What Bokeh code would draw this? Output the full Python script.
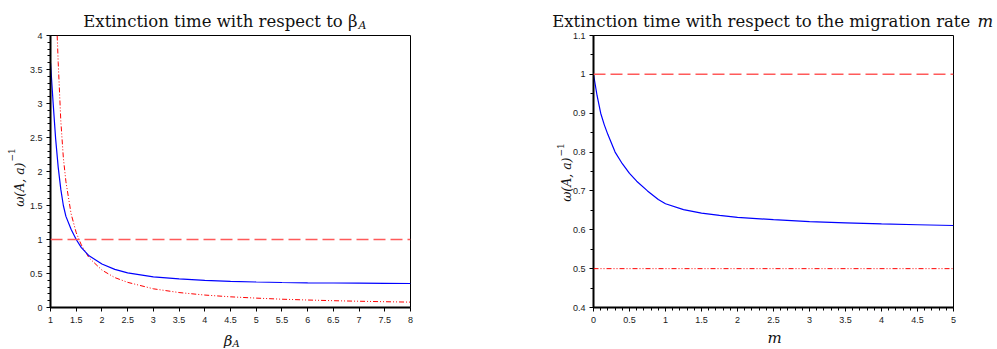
import math
from bokeh.plotting import figure
from bokeh.layouts import row
from bokeh.models import FixedTicker, CustomJSTickFormatter, Span, Label
from bokeh.embed import file_html
from bokeh.resources import INLINE

# ---------------- data ----------------
beta_blue = [1.0, 1.05, 1.1, 1.15, 1.2, 1.25, 1.3, 1.4, 1.5, 1.6, 1.75,
             2.0, 2.25, 2.5, 3.0, 3.5, 4.0, 4.5, 5.0, 5.5, 6.0, 6.5, 7.0, 7.5, 8.0]
omega_blue_beta = [3.6, 3.02, 2.48, 2.06, 1.74, 1.5, 1.34, 1.15, 1.0, 0.88, 0.76,
                   0.64, 0.56, 0.51, 0.45, 0.42, 0.40, 0.385, 0.375, 0.368, 0.363, 0.36, 0.357, 0.355, 0.353]

beta_red = [1.13, 1.15, 1.2, 1.25, 1.3, 1.4, 1.5, 1.6, 1.75, 2.0, 2.25, 2.5, 3.0, 3.5,
            4.0, 4.5, 5.0, 5.5, 6.0, 6.5, 7.0, 7.5, 8.0]
omega_red_beta = [4.0, 3.6, 2.75, 2.2, 1.85, 1.38, 1.1, 0.92, 0.73, 0.55, 0.44, 0.37, 0.275, 0.22,
                  0.183, 0.157, 0.138, 0.122, 0.11, 0.10, 0.092, 0.085, 0.079]

m_vals = [0.0, 0.05, 0.1, 0.15, 0.2, 0.3, 0.4, 0.5, 0.6, 0.75, 0.9, 1.0, 1.25, 1.5, 1.75,
          2.0, 2.5, 3.0, 3.5, 4.0, 4.5, 5.0]
omega_blue_m = [1.0, 0.945, 0.9, 0.87, 0.845, 0.80, 0.77, 0.745, 0.725, 0.70, 0.678, 0.667, 0.652,
                0.643, 0.637, 0.632, 0.626, 0.621, 0.618, 0.615, 0.613, 0.611]

left_dashed_level = 1.0
right_dashed_level = 1.0
right_dashdot_level = 0.5

left_x_ticks = [1, 1.5, 2, 2.5, 3, 3.5, 4, 4.5, 5, 5.5, 6, 6.5, 7, 7.5, 8]
left_y_ticks = [0, 0.5, 1, 1.5, 2, 2.5, 3, 3.5, 4]
left_y_minor = [round(0.1 * i, 1) for i in range(0, 41)]
right_x_ticks = [0, 0.5, 1, 1.5, 2, 2.5, 3, 3.5, 4, 4.5, 5]
right_x_minor = [round(0.1 * i, 1) for i in range(0, 51)]
right_y_ticks = [0.4, 0.5, 0.6, 0.7, 0.8, 0.9, 1.0, 1.1]
right_y_minor = [round(0.05 * i, 2) for i in range(8, 23)]

left_title = "Extinction time with respect to \u03b2"
right_title = "Extinction time with respect to the migration rate "
y_label = "\u03c9(A, a)"
y_label_sup = "\u22121"

# ---------------- styling helpers ----------------
FW, FH = 360, 272
SERIF = "DejaVu Serif"
SANS = "Liberation Sans"

fmt = CustomJSTickFormatter(code="return String(Math.round(tick*100)/100);")


def style(p, xt, xminor, yt, yminor):
    p.grid.visible = False
    p.outline_line_color = "black"
    p.outline_line_width = 1
    for ax in (p.xaxis[0], p.yaxis[0]):
        ax.axis_line_width = 2
        ax.axis_line_color = "black"
        ax.major_tick_line_color = "black"
        ax.minor_tick_line_color = "black"
        ax.major_tick_in = 0
        ax.major_tick_out = 4
        ax.minor_tick_in = 0
        ax.minor_tick_out = 3
        ax.major_label_text_font = SANS
        ax.major_label_text_font_size = "9px"
        ax.major_label_text_color = "#1a1a1a"
        ax.formatter = fmt
    p.xaxis[0].ticker = FixedTicker(ticks=xt, minor_ticks=xminor)
    p.yaxis[0].ticker = FixedTicker(ticks=yt, minor_ticks=yminor)
    p.xaxis[0].major_label_standoff = 5
    p.yaxis[0].major_label_standoff = 4
    if not xminor:
        p.xaxis[0].minor_tick_line_color = None


def lab(p, place, x, y, text, size, style_="normal", align="left", baseline="alphabetic", angle=0.0):
    p.add_layout(Label(x=x, y=y, x_units="canvas", y_units="canvas", text=text,
                       text_font=SERIF, text_font_size=size, text_font_style=style_,
                       text_align=align, text_baseline=baseline, angle=angle,
                       text_color="#111111"), place)


# ---------------- left figure (canvas starts at page x = 0) ----------------
p1 = figure(frame_width=FW, frame_height=FH, x_range=(1, 8), y_range=(0, 4),
            output_backend="svg", toolbar_location=None,
            min_border_left=50, min_border_right=98, min_border_top=35, min_border_bottom=41,
            background_fill_color="white", border_fill_color="white")
style(p1, left_x_ticks, [], left_y_ticks, left_y_minor)

p1.add_layout(Span(location=left_dashed_level, dimension="width", line_color="#ff5a5a",
                   line_width=1.5, line_dash="12 5"))
p1.line(beta_red, omega_red_beta, line_color="#ff0000", line_width=1, line_dash="5 2 1 2 1 2")
p1.line(beta_blue, omega_blue_beta, line_color="#0000ff", line_width=1.2)

lab(p1, "above", 357, 21, left_title, "16.5px", align="right")
lab(p1, "right", 358, 25, "A", "11px", style_="italic")
lab(p1, "below", 232, 340, "\u03b2", "15px", style_="italic", align="right")
lab(p1, "right", 232, 343, "A", "10px", style_="italic")
lab(p1, "right", 18.5, 162, y_label, "12.5px", style_="italic", align="right",
    baseline="middle", angle=math.pi / 2)
lab(p1, "right", 11, 161, y_label_sup, "9px", align="left", baseline="middle", angle=math.pi / 2)

# ---------------- right figure (canvas starts at page x = 508) ----------------
OX = 508
p2 = figure(frame_width=FW, frame_height=FH, x_range=(0, 5), y_range=(0.4, 1.1),
            output_backend="svg", toolbar_location=None,
            min_border_left=85, min_border_right=40, min_border_top=35, min_border_bottom=41,
            background_fill_color="white", border_fill_color="white")
style(p2, right_x_ticks, right_x_minor, right_y_ticks, right_y_minor)

p2.add_layout(Span(location=right_dashed_level, dimension="width", line_color="#ff5a5a",
                   line_width=1.5, line_dash="12 5"))
p2.add_layout(Span(location=right_dashdot_level, dimension="width", line_color="#ff0000",
                   line_width=1, line_dash="5 2 1 2 1 2"))
p2.line(m_vals, omega_blue_m, line_color="#0000ff", line_width=1.2)

lab(p2, "above", 975 - OX, 21, right_title, "16.5px", align="right")
lab(p2, "right", 977 - OX, 21, "m", "16.5px", style_="italic")
lab(p2, "below", 774 - OX, 337, "m", "15px", style_="italic", align="center")
lab(p2, "left", 565.5 - OX, 157, y_label, "12.5px", style_="italic", align="right",
    baseline="middle", angle=math.pi / 2)
lab(p2, "right", 560 - OX, 156, y_label_sup, "9px", align="left", baseline="middle",
    angle=math.pi / 2)

layout = row(p1, p2)
open("out.html", "w").write(file_html(layout, INLINE))
